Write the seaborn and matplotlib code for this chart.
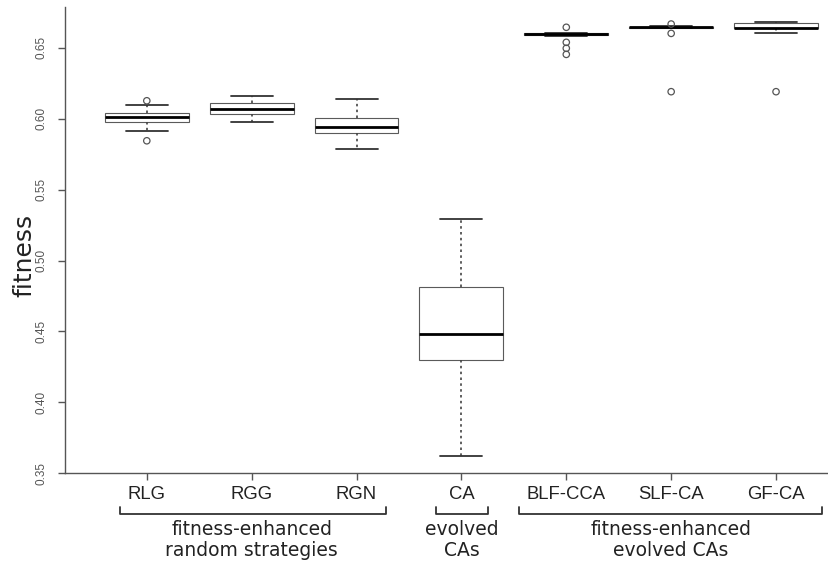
import numpy as np
import pandas as pd
import matplotlib
matplotlib.use("Agg")
import matplotlib.pyplot as plt
import matplotlib.transforms as mtransforms
import seaborn as sns

# ---------------- data ----------------
categories = ["RLG", "RGG", "RGN", "CA", "BLF-CCA", "SLF-CA", "GF-CA"]

# lower whisker, Q1, median, Q3, upper whisker
rlg = [0.5915, 0.5978, 0.6009, 0.6038, 0.6096]
rgg = [0.5974, 0.6033, 0.6068, 0.6108, 0.6162]
rgn = [0.5784, 0.5901, 0.5943, 0.6004, 0.6136]
ca = [0.3622, 0.4299, 0.4482, 0.4815, 0.5290]
blf_cca = [0.6584, 0.6587, 0.6597, 0.6601, 0.6604]
slf_ca = [0.6638, 0.6641, 0.6644, 0.6647, 0.6650]
gf_ca = [0.6601, 0.6640, 0.6642, 0.6676, 0.6683]

outlier_groups = ["RLG", "RLG", "BLF-CCA", "BLF-CCA", "BLF-CCA", "BLF-CCA",
                  "SLF-CA", "SLF-CA", "SLF-CA", "GF-CA"]
outlier_values = [0.6126, 0.5844, 0.6644, 0.6538, 0.6496, 0.6453,
                  0.6667, 0.6601, 0.6190, 0.6190]

y_ticks = [0.35, 0.40, 0.45, 0.50, 0.55, 0.60, 0.65]
y_tick_labels = ["0.35", "0.40", "0.45", "0.50", "0.55", "0.60", "0.65"]

group_members = [["RLG", "RGG", "RGN"], ["CA"], ["BLF-CCA", "SLF-CA", "GF-CA"]]
group_labels = ["fitness-enhanced\nrandom strategies", "evolved\nCAs",
                "fitness-enhanced\nevolved CAs"]

# ---------------- build table ----------------
series = [rlg, rgg, rgn, ca, blf_cca, slf_ca, gf_ca]
df = pd.DataFrame({
    "group": np.repeat(categories, [len(s) for s in series]),
    "fitness": np.concatenate(series),
})

# ---------------- figure ----------------
sns.set_style("ticks")
plt.rcParams["font.family"] = ["DejaVu Sans"]

W, H = 829, 564
fig = plt.figure(figsize=(W / 100, H / 100), dpi=100)
ax = fig.add_axes([65 / W, (H - 473.3) / H, (W - 65) / W, 466.3 / H])

sns.boxplot(
    data=df, x="group", y="fitness", order=categories,
    color="white", saturation=1, width=0.8, whis=(0, 100), showfliers=False,
    linecolor="#5a5a5a", linewidth=0.8,
    medianprops=dict(color="black", linewidth=2.0),
    whiskerprops=dict(color="#444444", linestyle=(0, (1.5, 2.0)), linewidth=1.2),
    capprops=dict(color="#333333", linewidth=1.3),
    ax=ax,
)

sns.stripplot(
    x=outlier_groups, y=outlier_values, order=categories, jitter=False,
    size=4.6, marker="o", color="#555555", facecolor="none",
    edgecolor="#555555", linewidth=0.9, ax=ax, zorder=5,
)

ax.set_xlim(-0.78, 6.505)
ax.set_ylim(0.35, 0.6787)
ax.set_yticks(y_ticks)
ax.set_yticklabels(y_tick_labels, family="Liberation Sans", fontsize=8.5,
                   color="#555555")
ax.set_xticks(range(len(categories)))
ax.set_xticklabels(categories, family="Liberation Sans", fontsize=13.3,
                   color="#222222")
ax.set_xlabel("")
ax.set_ylabel("")

for s in ["top", "right"]:
    ax.spines[s].set_visible(False)
for s in ["left", "bottom"]:
    ax.spines[s].set_color("#555555")
    ax.spines[s].set_linewidth(1.0)

ax.tick_params(axis="x", length=5, width=1, color="#555555", pad=4)
ax.tick_params(axis="y", length=5, width=1, color="#555555", pad=7.5,
               labelrotation=90)
for lab in ax.get_yticklabels():
    lab.set_verticalalignment("center")

fig.text(24 / W, 1 - 255 / H, "fitness", rotation=90, fontsize=18,
         ha="center", va="center", color="#222222")

# group brackets
trans = mtransforms.blended_transform_factory(ax.transData, fig.transFigure)
ext = [(0.26, 0.28), (0.24, 0.25), (0.45, 0.44)]
y_bot = 1 - 514 / H
y_top = 1 - 507 / H
y_txt = 1 - 540 / H
for members, label, (el, er) in zip(group_members, group_labels, ext):
    i0 = categories.index(members[0])
    i1 = categories.index(members[-1])
    x0, x1 = i0 - el, i1 + er
    ax.plot([x0, x0, x1, x1], [y_top, y_bot, y_bot, y_top], transform=trans,
            clip_on=False, color="#333333", lw=1.3)
    ax.text((i0 + i1) / 2, y_txt, label, transform=trans, ha="center",
            va="center", multialignment="center", fontsize=13.5,
            color="#222222", linespacing=1.15)

fig.savefig("out.png", dpi=100)
